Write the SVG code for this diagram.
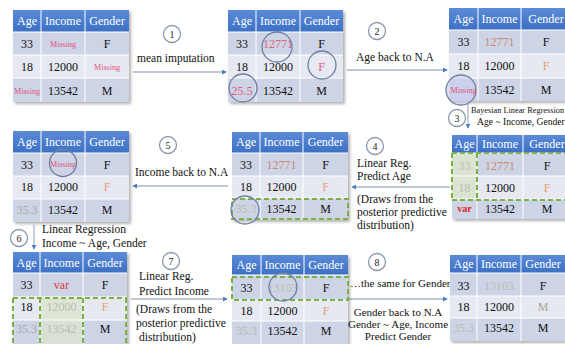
<svg xmlns="http://www.w3.org/2000/svg" width="565" height="344" viewBox="0 0 565 344">
<defs>
  <linearGradient id="hdr" x1="0" y1="0" x2="0" y2="1">
    <stop offset="0" stop-color="#5b8bd8"/>
    <stop offset="1" stop-color="#3c70c4"/>
  </linearGradient>
  <filter id="shadow" x="-10%" y="-10%" width="130%" height="130%">
    <feDropShadow dx="2" dy="2" stdDeviation="1.6" flood-color="#000" flood-opacity="0.3"/>
  </filter>
  <marker id="arr" viewBox="0 0 6 6" refX="5" refY="3" markerWidth="5" markerHeight="5" orient="auto" markerUnits="userSpaceOnUse">
    <path d="M0,0 L6,3 L0,6 z" fill="#4f7ec0"/>
  </marker>
</defs>
<style>
  text{font-family:"Liberation Serif","Times New Roman",serif;}
  .box{fill:#cdd4e6;filter:url(#shadow)}
  .h{fill:#fff;font-size:12px;text-anchor:middle}
  .c{fill:#111;font-size:12px;text-anchor:middle}
  .r1{fill:#cdd4e6}
  .r2{fill:#e6e9f2}
  .sep{stroke:#fff;stroke-width:1;fill:none}
  .miss{fill:#e0517c;font-size:8px;text-anchor:middle}
  .pink{fill:#e0607e}
  .orange{fill:#e9a070}
  .brown{fill:#cc8a6e}
  .gray{fill:#a9a9a9}
  .faint{fill:#b9bdb0}
  .var{fill:#e02424;font-size:10px;font-weight:bold;text-anchor:middle}
  .lbl{fill:#111;font-size:11.5px}
  .lbl2{fill:#111;font-size:11px}
  .lblc{fill:#111;font-size:11px;text-anchor:middle}
  .small{fill:#111;font-size:9.6px}
  .tiny{fill:#111;font-size:8.3px}
  .num{fill:#222;font-size:10px;text-anchor:middle}
  .badge{fill:#fff;stroke:#8d99ad;stroke-width:1.3}
  .conn{stroke:#aab6c6;stroke-width:1.3;fill:none;marker-end:url(#arr)}
  .ring{fill:none;stroke:#6f7fa3;stroke-width:1.3}
  .dash{fill:none;stroke:#7bb045;stroke-width:2;stroke-dasharray:5 3}
  .green{fill:#dbe4d0}
</style>

<!-- connectors -->
<g id="connectors">
  <path class="conn" d="M133 72H226"/>
  <path class="conn" d="M347 70H447"/>
  <path class="conn" d="M468 104V128"/>
  <path class="conn" d="M450 187H352"/>
  <path class="conn" d="M228 186H133"/>
  <path class="conn" d="M34 225V249"/>
  <path class="conn" d="M131 299H227"/>
  <path class="conn" d="M349 299H447"/>
</g>

<!-- step labels -->
<g id="step1">
  <circle class="badge" cx="172" cy="34" r="8.5"/>
  <text class="num" x="172" y="37.5">1</text>
  <text class="lbl" x="137" y="62">mean imputation</text>
</g>
<g id="step2">
  <circle class="badge" cx="377" cy="31" r="8.5"/>
  <text class="num" x="377" y="34.5">2</text>
  <text class="lbl" x="356" y="61">Age back to N.A</text>
</g>
<g id="step3">
  <circle class="badge" cx="457" cy="118" r="8.5"/>
  <text class="num" x="457" y="121.5">3</text>
  <text class="tiny" x="471" y="113">Bayesian Linear Regression</text>
  <text class="small" x="477" y="125">Age ~ Income, Gender</text>
</g>
<g id="step4">
  <circle class="badge" cx="375" cy="146" r="8.5"/>
  <text class="num" x="375" y="149.5">4</text>
  <text class="lbl" x="357" y="167">Linear Reg.</text>
  <text class="lbl" x="357" y="180">Predict Age</text>
  <text class="lbl" x="357" y="203">(Draws from the</text>
  <text class="lbl" x="357" y="216">posterior predictive</text>
  <text class="lbl" x="357" y="229">distribution)</text>
</g>
<g id="step5">
  <circle class="badge" cx="168" cy="145" r="8.5"/>
  <text class="num" x="168" y="148.5">5</text>
  <text class="lbl" x="135" y="176">Income back to N.A</text>
</g>
<g id="step6">
  <circle class="badge" cx="19" cy="238" r="8.5"/>
  <text class="num" x="19" y="241.5">6</text>
  <text class="lbl" x="42" y="233">Linear Regression</text>
  <text class="lbl" x="42" y="247">Income ~ Age, Gender</text>
</g>
<g id="step7">
  <circle class="badge" cx="171" cy="261" r="8.5"/>
  <text class="num" x="171" y="264.5">7</text>
  <text class="lbl" x="139" y="280">Linear Reg.</text>
  <text class="lbl" x="139" y="295">Predict Income</text>
  <text class="lbl" x="136" y="313">(Draws from the</text>
  <text class="lbl" x="136" y="327">posterior predictive</text>
  <text class="lbl" x="139" y="341">distribution)</text>
</g>
<g id="step8">
  <circle class="badge" cx="377" cy="262" r="8.5"/>
  <text class="num" x="377" y="265.5">8</text>
  <text class="lbl2" x="350" y="287">…the same for Gender</text>
  <text class="lblc" x="398" y="316">Gender back to N.A</text>
  <text class="lblc" x="398" y="328">Gender ~ Age, Income</text>
  <text class="lblc" x="398" y="340">Predict Gender</text>
</g>

<!-- table 1: raw data -->
<g id="t1">
  <rect class="box" x="13" y="10" width="116" height="92"/>
  <rect x="13" y="10" width="116" height="22" fill="url(#hdr)"/>
  <rect class="r2" x="13" y="55" width="116" height="23"/>
  <path class="sep" d="M41 10V102M85 10V102M13 32H129M13 55H129M13 78H129"/>
  <text class="h" x="27" y="25">Age</text><text class="h" x="63" y="25">Income</text><text class="h" x="107" y="25">Gender</text>
  <text class="c" x="27" y="48">33</text><text class="miss" x="63" y="47">Missing</text><text class="c" x="107" y="48">F</text>
  <text class="c" x="27" y="71">18</text><text class="c" x="63" y="71">12000</text><text class="miss" x="107" y="70">Missing</text>
  <text class="miss" x="27" y="94">Missing</text><text class="c" x="63" y="95">13542</text><text class="c" x="107" y="95">M</text>
</g>

<!-- table 2: mean imputed -->
<g id="t2">
  <rect class="box" x="228" y="10" width="115" height="92"/>
  <rect x="228" y="10" width="115" height="22" fill="url(#hdr)"/>
  <rect class="r2" x="228" y="55" width="115" height="23"/>
  <path class="sep" d="M256 10V102M300 10V102M228 32H343M228 55H343M228 78H343"/>
  <text class="h" x="242" y="25">Age</text><text class="h" x="278" y="25">Income</text><text class="h" x="321.5" y="25">Gender</text>
  <text class="c" x="242" y="48">33</text><text class="c pink" x="278" y="48">12771</text><text class="c" x="321.5" y="48">F</text>
  <text class="c" x="242" y="71">18</text><text class="c" x="278" y="71">12000</text><text class="c pink" x="321.5" y="71">F</text>
  <text class="c pink" x="242" y="95">25.5</text><text class="c" x="278" y="95">13542</text><text class="c" x="321.5" y="95">M</text>
  <circle class="ring" cx="277" cy="47" r="15"/>
  <circle class="ring" cx="322" cy="65" r="14"/>
  <circle class="ring" cx="243" cy="88" r="14"/>
</g>

<!-- table 3: age set back to missing -->
<g id="t3">
  <rect class="box" x="449" y="8" width="131" height="93"/>
  <rect x="449" y="8" width="131" height="22" fill="url(#hdr)"/>
  <rect class="r2" x="449" y="54" width="131" height="24"/>
  <path class="sep" d="M478 8V101M521 8V101M449 30H580M449 54H580M449 78H580"/>
  <text class="h" x="463.5" y="23">Age</text><text class="h" x="499.5" y="23">Income</text><text class="h" x="546" y="23">Gender</text>
  <text class="c" x="463.5" y="46">33</text><text class="c brown" x="499.5" y="46">12771</text><text class="c" x="546" y="46">F</text>
  <text class="c" x="463.5" y="70">18</text><text class="c" x="499.5" y="70">12000</text><text class="c orange" x="546" y="70">F</text>
  <circle cx="461" cy="90" r="15" fill="#c9cfec" fill-opacity="0.6" stroke="#6f7fa3" stroke-width="1.3"/>
  <text class="miss" x="463.5" y="93">Missing</text><text class="c" x="499.5" y="94">13542</text><text class="c" x="546" y="94">M</text>
</g>

<!-- table 6: Bayesian regression for age -->
<g id="t6">
  <rect class="box" x="452" y="135" width="128" height="84"/>
  <rect x="452" y="135" width="128" height="18" fill="url(#hdr)"/>
  <rect class="r2" x="452" y="176" width="128" height="23"/>
  <rect class="green" x="452" y="153" width="25" height="46"/>
  <path class="sep" d="M477 135V219M523 135V219M452 153H580M452 176H580M452 199H580"/>
  <text class="h" x="464.5" y="148">Age</text><text class="h" x="500" y="148">Income</text><text class="h" x="547" y="148">Gender</text>
  <text class="c faint" x="464.5" y="170">33</text><text class="c brown" x="500" y="170">12771</text><text class="c" x="547" y="170">F</text>
  <text class="c faint" x="464.5" y="192">18</text><text class="c" x="500" y="192">12000</text><text class="c orange" x="547" y="192">F</text>
  <text class="var" x="464.5" y="212">var</text><text class="c" x="500" y="213">13542</text><text class="c" x="547" y="213">M</text>
  <path class="dash" d="M452 153H580M452 200H580M452 153V200M477 153V200"/>
</g>

<!-- table 5: predicted age -->
<g id="t5">
  <rect class="box" x="232" y="132" width="116" height="88"/>
  <rect x="232" y="132" width="116" height="21" fill="url(#hdr)"/>
  <rect class="r2" x="232" y="176" width="116" height="22"/>
  <path class="sep" d="M260 132V220M303 132V220M232 153H348M232 176H348M232 198H348"/>
  <text class="h" x="246" y="146">Age</text><text class="h" x="281.5" y="146">Income</text><text class="h" x="325.5" y="146">Gender</text>
  <text class="c" x="246" y="169">33</text><text class="c brown" x="281.5" y="169">12771</text><text class="c" x="325.5" y="169">F</text>
  <text class="c" x="246" y="191">18</text><text class="c" x="281.5" y="191">12000</text><text class="c orange" x="325.5" y="191">F</text>
  <text class="c faint" x="246" y="213">35.3</text><text class="c" x="281.5" y="213">13542</text><text class="c" x="325.5" y="213">M</text>
  <rect class="dash" x="232" y="199" width="116" height="20"/>
  <circle class="ring" cx="245" cy="210" r="14"/>
</g>

<!-- table 4: income set back to missing -->
<g id="t4">
  <rect class="box" x="13" y="131" width="116" height="91"/>
  <rect x="13" y="131" width="116" height="22" fill="url(#hdr)"/>
  <rect class="r2" x="13" y="176" width="116" height="23"/>
  <path class="sep" d="M41 131V222M85 131V222M13 153H129M13 176H129M13 199H129"/>
  <text class="h" x="27" y="146">Age</text><text class="h" x="63" y="146">Income</text><text class="h" x="107" y="146">Gender</text>
  <text class="c" x="27" y="169">33</text><text class="miss" x="63" y="167">Missing</text><text class="c" x="107" y="169">F</text>
  <text class="c" x="27" y="191">18</text><text class="c" x="63" y="191">12000</text><text class="c orange" x="107" y="191">F</text>
  <text class="c gray" x="27" y="214">35.3</text><text class="c" x="63" y="214">13542</text><text class="c" x="107" y="214">M</text>
  <circle class="ring" cx="63" cy="163" r="13.5"/>
</g>

<!-- table 7: regression for income -->
<g id="t7">
  <rect class="box" x="13" y="252" width="114" height="92"/>
  <rect x="13" y="252" width="114" height="21" fill="url(#hdr)"/>
  <rect class="r2" x="13" y="297" width="114" height="23"/>
  <rect class="green" x="40" y="298" width="43" height="46" fill-opacity="0.8"/>
  <path class="sep" d="M40 252V344M83 252V344M13 273H127M13 297H127M13 320H127"/>
  <text class="h" x="26.5" y="267">Age</text><text class="h" x="61.5" y="267">Income</text><text class="h" x="105" y="267">Gender</text>
  <text class="c" x="26.5" y="289">33</text><text class="c" x="61.5" y="289" style="fill:#e03a3a">var</text><text class="c" x="105" y="289">F</text>
  <text class="c" x="26.5" y="311">18</text><text class="c faint" x="61.5" y="311">12000</text><text class="c orange" x="105" y="311">F</text>
  <text class="c gray" x="26.5" y="333">35.3</text><text class="c faint" x="61.5" y="333">13542</text><text class="c" x="105" y="333">M</text>
  <path class="dash" d="M13 298H127M13 298V346M40 298V346M83 298V346M126 298V346"/>
</g>

<!-- table 8: predicted income -->
<g id="t8">
  <rect class="box" x="232" y="255" width="116" height="89"/>
  <rect x="232" y="255" width="116" height="20" fill="url(#hdr)"/>
  <rect class="r2" x="232" y="300" width="116" height="21"/>
  <path class="sep" d="M261 255V344M304 255V344M232 275H348M232 300H348M232 321H348"/>
  <text class="h" x="246.5" y="269">Age</text><text class="h" x="282.5" y="269">Income</text><text class="h" x="326" y="269">Gender</text>
  <text class="c" x="246.5" y="292">33</text><text class="c faint" x="282.5" y="292">13103</text><text class="c" x="326" y="292">F</text>
  <text class="c" x="246.5" y="315">18</text><text class="c" x="282.5" y="315">12000</text><text class="c orange" x="326" y="315">F</text>
  <text class="c faint" x="246.5" y="335">35.3</text><text class="c" x="282.5" y="335">13542</text><text class="c" x="326" y="335">M</text>
  <rect class="dash" x="232" y="277" width="116" height="23"/>
  <circle class="ring" cx="283" cy="287" r="14"/>
</g>

<!-- table 9: gender handled the same way -->
<g id="t9">
  <rect class="box" x="450" y="255" width="130" height="86"/>
  <rect x="450" y="255" width="130" height="18" fill="url(#hdr)"/>
  <rect class="r2" x="450" y="296" width="130" height="22"/>
  <path class="sep" d="M477 255V341M521 255V341M450 273H580M450 296H580M450 318H580"/>
  <text class="h" x="463.5" y="268">Age</text><text class="h" x="499" y="268">Income</text><text class="h" x="543" y="268">Gender</text>
  <text class="c" x="463.5" y="290">33</text><text class="c faint" x="499" y="290">13103</text><text class="c" x="543" y="290">F</text>
  <text class="c" x="463.5" y="311">18</text><text class="c" x="499" y="311">12000</text><text class="c" x="543" y="311" style="fill:#a9a890">M</text>
  <text class="c faint" x="463.5" y="332">35.3</text><text class="c" x="499" y="332">13542</text><text class="c" x="543" y="332">M</text>
</g>
</svg>
